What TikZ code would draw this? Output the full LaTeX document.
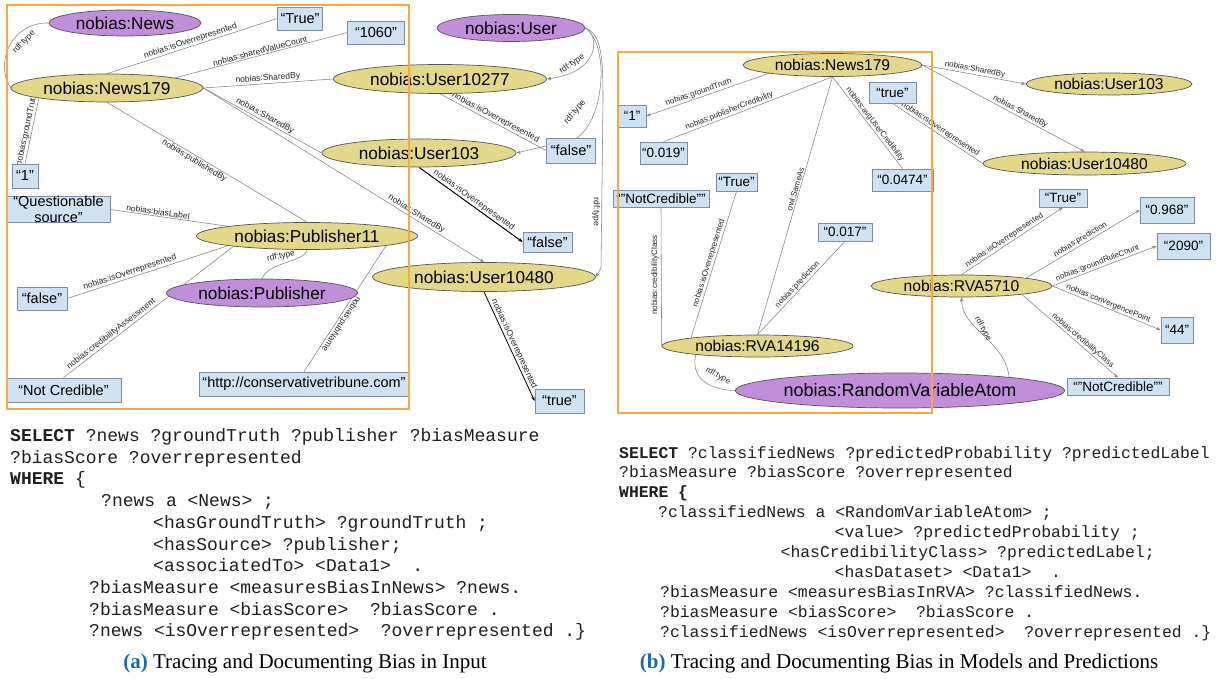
\documentclass[tikz,border=0pt]{standalone}
\usepackage{fontspec}
\setmainfont{Liberation Sans}
\newfontfamily\monofam{Liberation Mono}
\newfontfamily\seriffam{Liberation Serif}
\usetikzlibrary{shapes.geometric,arrows.meta}
\pgfdeclarelayer{bg}
\pgfdeclarelayer{fg}
\pgfsetlayers{bg,main,fg}

\definecolor{instfill}{HTML}{E3D887}
\definecolor{clsfill}{HTML}{C18EDA}
\definecolor{litfill}{HTML}{CFE2F3}
\definecolor{boxline}{HTML}{7F8FA3}
\definecolor{nodeline}{HTML}{555555}
\definecolor{edgegray}{HTML}{858585}
\definecolor{framecol}{HTML}{F5A93F}
\definecolor{capblue}{HTML}{1F6AA5}

\tikzset{
  sz/.style 2 args={minimum width=#1, minimum height=#2},
  inst/.style={ellipse, draw=nodeline, line width=0.7pt, fill=instfill, inner sep=0pt},
  cls/.style={ellipse, draw=nodeline, line width=0.7pt, fill=clsfill, inner sep=0pt},
  lit/.style={rectangle, draw=boxline, line width=0.7pt, fill=litfill, inner sep=0pt, align=center},
  bigL/.style={font=\fontsize{17.2}{19}\selectfont},
  boxL/.style={font=\fontsize{14.5}{16}\selectfont},
  bigR/.style={font=\fontsize{15.6}{18}\selectfont},
  boxR/.style={font=\fontsize{13.5}{15}\selectfont},
  rel/.style={draw=edgegray, line width=0.55pt},
  relk/.style={draw=black, line width=1pt},
  tip/.style={-{Stealth[length=4.5pt,width=3.4pt]}},
  lbl/.style={sloped, above, inner sep=1pt, text=black!85, font=\fontsize{8.5}{9}\selectfont},
  lblR/.style={lbl, font=\fontsize{8}{9}\selectfont},
  freelbl/.style={inner sep=0pt, text=black!85, font=\fontsize{8.5}{9}\selectfont},
  frame/.style={draw=framecol, line width=1.5pt},
  codeL/.style={anchor=base west, inner sep=0pt, text=black!88, font=\monofam\fontsize{18}{20}\selectfont},
  codeR/.style={anchor=base west, inner sep=0pt, text=black!88, font=\monofam\fontsize{16.4}{18}\selectfont},
  caption/.style={inner sep=0pt, font=\seriffam\fontsize{21}{24}\selectfont},
}

\begin{document}
\begin{tikzpicture}[x=1pt,y=-1pt]
\useasboundingbox (0,0) rectangle (1219,679);
\begin{pgfonlayer}{bg}
  \fill[white] (0,0) rectangle (1219,679);
\end{pgfonlayer}

% ---------------- input graph ----------------
\node[cls, sz={152}{26}, bigL]  (newsC)  at (125,23)  {nobias:News};
\node[inst, sz={192}{28}, bigL] (n179)   at (107,88)  {nobias:News179};
\node[cls, sz={148}{27}, bigL]  (userC)  at (511,28)  {nobias:User};
\node[inst, sz={213}{29}, bigL] (u10277) at (440,79)  {nobias:User10277};
\node[inst, sz={194}{28}, bigL] (u103)   at (419,153) {nobias:User103};
\node[inst, sz={221}{27}, bigL] (pub11)  at (307,236) {nobias:Publisher11};
\node[cls, sz={191}{28}, bigL]  (pubC)   at (262,293) {nobias:Publisher};
\node[inst, sz={223}{29}, bigL] (u10480) at (484,277) {nobias:User10480};

\node[lit, sz={45}{23}, boxL]  (tTrue)   at (300,18.5)  {“True”};
\node[lit, sz={57}{23}, boxL]  (t1060)   at (376,32.5)  {“1060”};
\node[lit, sz={49}{25}, boxL]  (tFalseA) at (571,150.5) {“false”};
\node[lit, sz={26}{24}, boxL]  (t1)      at (25,176)    {“1”};
\node[lit, sz={103}{25}, font=\fontsize{14.5}{16}\selectfont] (tQS) at (58.5,209.5) {“Questionable\\source”};
\node[lit, sz={50}{23}, boxL]  (tFalseB) at (42,298.5)  {“false”};
\node[lit, sz={115}{24}, boxL] (tNC)     at (63.5,390)  {“Not Credible”};
\node[lit, sz={210}{24}, boxL] (tURL)    at (304,384)   {“http://conservativetribune.com"};
\node[lit, sz={49}{20}, boxL]  (tFalseC) at (547.5,242) {“false”};
\node[lit, sz={49}{24}, boxL]  (tTrueB)  at (559.5,401) {“true”};

% ---------------- model graph ----------------
\node[inst, sz={179}{23}, bigR] (r179)     at (832.5,65)   {nobias:News179};
\node[inst, sz={166}{22}, bigR] (ru103)    at (1109,84)    {nobias:User103};
\node[inst, sz={203}{23}, bigR] (ru10480)  at (1084.5,163.5) {nobias:User10480};
\node[inst, sz={181}{22}, bigR] (rva5710)  at (961.5,286)  {nobias:RVA5710};
\node[inst, sz={191}{22}, bigR] (rva14196) at (757.5,346)  {nobias:RVA14196};
\node[cls, sz={304}{35}, font=\fontsize{18}{20}\selectfont] (rvaC) at (900,390.5) {nobias:RandomVariableAtom};

\node[lit, sz={28}{22}, boxR]  (r1)     at (632,116)    {“1”};
\node[lit, sz={47}{22}, boxR]  (r019)   at (663.5,153)  {“0.019”};
\node[lit, sz={47}{21}, boxR]  (rtrue)  at (892.5,92.5) {“true”};
\node[lit, sz={61}{22}, boxR]  (r0474)  at (902.5,180)  {“0.0474”};
\node[lit, sz={48}{18}, boxR]  (rTrueA) at (1063,198)   {“True”};
\node[lit, sz={54}{26}, boxR]  (r968)   at (1167,210)   {“0.968”};
\node[lit, sz={53}{26}, boxR]  (r2090)  at (1183.5,246) {“2090”};
\node[lit, sz={32}{26}, boxR]  (r44)    at (1177,330)   {“44”};
\node[lit, sz={102}{17}, boxR] (rNCb)   at (1118,386.5) {“"NotCredible"”};
\node[lit, sz={96}{17}, boxR]  (rNCa)   at (661,198.5)  {“"NotCredible"”};
\node[lit, sz={41}{18}, boxR]  (rTrueB) at (736.5,182)  {“True”};
\node[lit, sz={54}{18}, boxR]  (r017)   at (845,232)    {“0.017”};

\begin{pgfonlayer}{bg}
  % input graph relations
  \draw[rel] (n179.west) .. controls (-6,62) and (12,22) .. (newsC.west);
  \node[freelbl, rotate=45] (lblA1) at (24,42) {rdf:type};
  \draw[rel] (n179.north) -- node[lbl]{nobias:isOverrepresented} (tTrue.west);
  \draw[rel] (n179.north east) -- node[lbl]{nobias:sharedValueCount} (t1060.west);
  \draw[rel] (n179.east) -- node[lbl]{nobias:SharedBy} (u10277.west);
  \draw[rel] (n179.east) -- node[lbl]{nobias:SharedBy} (u103.west);
  \draw[rel, tip] (n179.east) -- node[lbl, pos=0.75]{nobias:SharedBy} (u10480.north);
  \draw[rel] (n179.south) -- node[lbl, below, pos=0.45]{nobias:publishedBy} (pub11.north);
  \draw[rel] (n179.south west) -- node[lbl]{nobias:groundTruth} (t1.north);

  \draw[rel, tip] (userC.east) .. controls (600,36) and (600,72) .. (u10277.east);
  \node[freelbl, rotate=35] (lblA2) at (572,64) {rdf:type};
  \draw[rel, tip] (userC.east) .. controls (610,45) and (605,122) .. (575,139) -- (u103.east);
  \node[freelbl, rotate=50] (lblA3) at (575,112) {rdf:type};
  \draw[rel, tip] (userC.east) .. controls (602,34) and (603,60) .. (603,100) -- (601,268) -- (u10480.east);
  \node[freelbl, rotate=-90] (lblA4) at (596,212) {rdf:type};

  \draw[rel] (u10277.south) -- node[lbl]{nobias:isOverrepresented} (tFalseA.west);
  \draw[relk, tip] (u103.south) -- node[lbl]{nobias:isOverrepresented} (tFalseC.west);

  \draw[rel] (pub11.173) -- node[lbl, pos=0.6]{nobias:biasLabel} (tQS.east);
  \draw[rel] (pub11.187) -- node[lbl, pos=0.6]{nobias:isOverrepresented} (tFalseB.east);
  \draw[rel] (pub11.188) -- node[lbl, pos=0.7]{nobias:credibilityAssessment} (tNC.north);
  \draw[rel] (pub11.south) .. controls (305,262) and (268,262) .. (pubC.north);
  \node[freelbl, rotate=12] (lblA5) at (281,256) {rdf:type};
  \draw[rel] (pub11.-7) -- node[lbl, allow upside down, pos=0.6]{nobias:pubName} (tURL.north);
  \draw[relk, line width=0.8pt, tip] (u10480.south) -- node[lbl]{nobias:isOverrepresented} (tTrueB.west);

  % model graph relations
  \draw[rel, tip] (r179.south west) -- node[lblR, pos=0.56]{nobias:groundTruth} (r1.east);
  \draw[rel] (r179.south) -- node[lblR, pos=0.6]{nobias:publisherCredibility} (r019.north);
  \draw[rel] (r179.south) -- node[lblR, pos=0.55]{nobias:avgUserCredibility} (r0474.north);
  \draw[rel] (r179.south) -- node[lblR, pos=0.44]{owl:SameAs} (rva14196.north);
  \draw[rel, tip] (r179.east) -- node[lblR]{nobias:SharedBy} (ru103.west);
  \draw[rel, tip] (r179.east) -- node[lblR, pos=0.59]{nobias:SharedBy} (ru10480.north);
  \draw[rel] (ru10480.west) -- node[lblR]{nobias:isOverrepresented} (rtrue.south);

  \draw[rel] (rva14196.west) -- (rNCa.south);
  \node[freelbl, rotate=90, font=\fontsize{8}{9}\selectfont] (lblB0) at (655,275) {nobias:credibilityClass};
  \draw[rel] (rva14196.173) -- node[lblR]{nobias:isOverrepresented} (rTrueB.south);
  \draw[rel] (rva14196.north) -- node[lblR]{nobias:prediction} (r017.south);
  \draw[rel] (rva14196.188) .. controls (690,380) and (712,390) .. (rvaC.west);
  \node[freelbl, rotate=-28, font=\fontsize{8}{9}\selectfont] (lblB1) at (718,376) {rdf:type};

  \draw[rel, tip] (rva5710.north) -- node[lblR, pos=0.45]{nobias:isOverrepresented} (rTrueA.south);
  \draw[rel, tip] (rva5710.7) -- node[lblR]{nobias:prediction} (r968.west);
  \draw[rel, tip] (rva5710.east) -- node[lblR, pos=0.45]{nobias:groundRuleCount} (r2090.west);
  \draw[rel, tip] (rva5710.east) -- node[lblR]{nobias:convergencePoint} (r44.west);
  \draw[rel, tip] (rva5710.-8) -- node[lblR, pos=0.6]{nobias:credibilityClass} (rNCb.north);
  \draw[rel, tip] (rvaC.7) .. controls (1005,340) and (962,330) .. (rva5710.south);
  \node[freelbl, rotate=-62, font=\fontsize{8}{9}\selectfont] (lblB2) at (983,329) {rdf:type};
\end{pgfonlayer}

% ---------------- frames ----------------
\begin{pgfonlayer}{fg}
  \draw[frame] (7,5) rectangle (409,409);
  \draw[frame] (618,52) rectangle (932,413);
\end{pgfonlayer}

% ---------------- queries ----------------
\node[codeL] (qa1)  at (10,441.5)  {\textbf{SELECT} ?news ?groundTruth ?publisher ?biasMeasure};
\node[codeL] (qa2)  at (10,463.2)  {?biasScore ?overrepresented};
\node[codeL] (qa3)  at (10,484.9)  {\textbf{WHERE} \{};
\node[codeL] (qa4)  at (101,506.6) {?news a <News> ;};
\node[codeL] (qa5)  at (153,528.3) {<hasGroundTruth> ?groundTruth ;};
\node[codeL] (qa6)  at (153,550)   {<hasSource> ?publisher;};
\node[codeL] (qa7)  at (153,571.7) {<associatedTo> <Data1>\ \ .};
\node[codeL] (qa8)  at (89,593.4)  {?biasMeasure <measuresBiasInNews> ?news.};
\node[codeL] (qa9)  at (89,615.1)  {?biasMeasure <biasScore>\ \ ?biasScore .};
\node[codeL] (qa10) at (89,636.8)  {?news <isOverrepresented>\ \ ?overrepresented .\}};

\node[codeR] (qb1)  at (619,458)   {\textbf{SELECT} ?classifiedNews ?predictedProbability ?predictedLabel};
\node[codeR] (qb2)  at (619,477.9) {?biasMeasure ?biasScore ?overrepresented};
\node[codeR] (qb3)  at (619,497.8) {\textbf{WHERE \{}};
\node[codeR] (qb4)  at (658,517.7) {?classifiedNews a <RandomVariableAtom> ;};
\node[codeR] (qb5)  at (834.5,537.6) {<value> ?predictedProbability ;};
\node[codeR] (qb6)  at (780.5,557.5) {<hasCredibilityClass> ?predictedLabel;};
\node[codeR] (qb7)  at (834.5,577.4) {<hasDataset> <Data1>\ \ .};
\node[codeR] (qb8)  at (660,597.3) {?biasMeasure <measuresBiasInRVA> ?classifiedNews.};
\node[codeR] (qb9)  at (660,617.2) {?biasMeasure <biasScore>\ \ ?biasScore .};
\node[codeR] (qb10) at (660,637.1) {?classifiedNews <isOverrepresented>\ \ ?overrepresented .\}};

% ---------------- captions ----------------
\node[caption] (capa) at (305,663) {\textcolor{capblue}{\textbf{(a)}} Tracing and Documenting Bias in Input};
\node[caption] (capb) at (899,663) {\textcolor{capblue}{\textbf{(b)}} Tracing and Documenting Bias in Models and Predictions};
\end{tikzpicture}
\end{document}
